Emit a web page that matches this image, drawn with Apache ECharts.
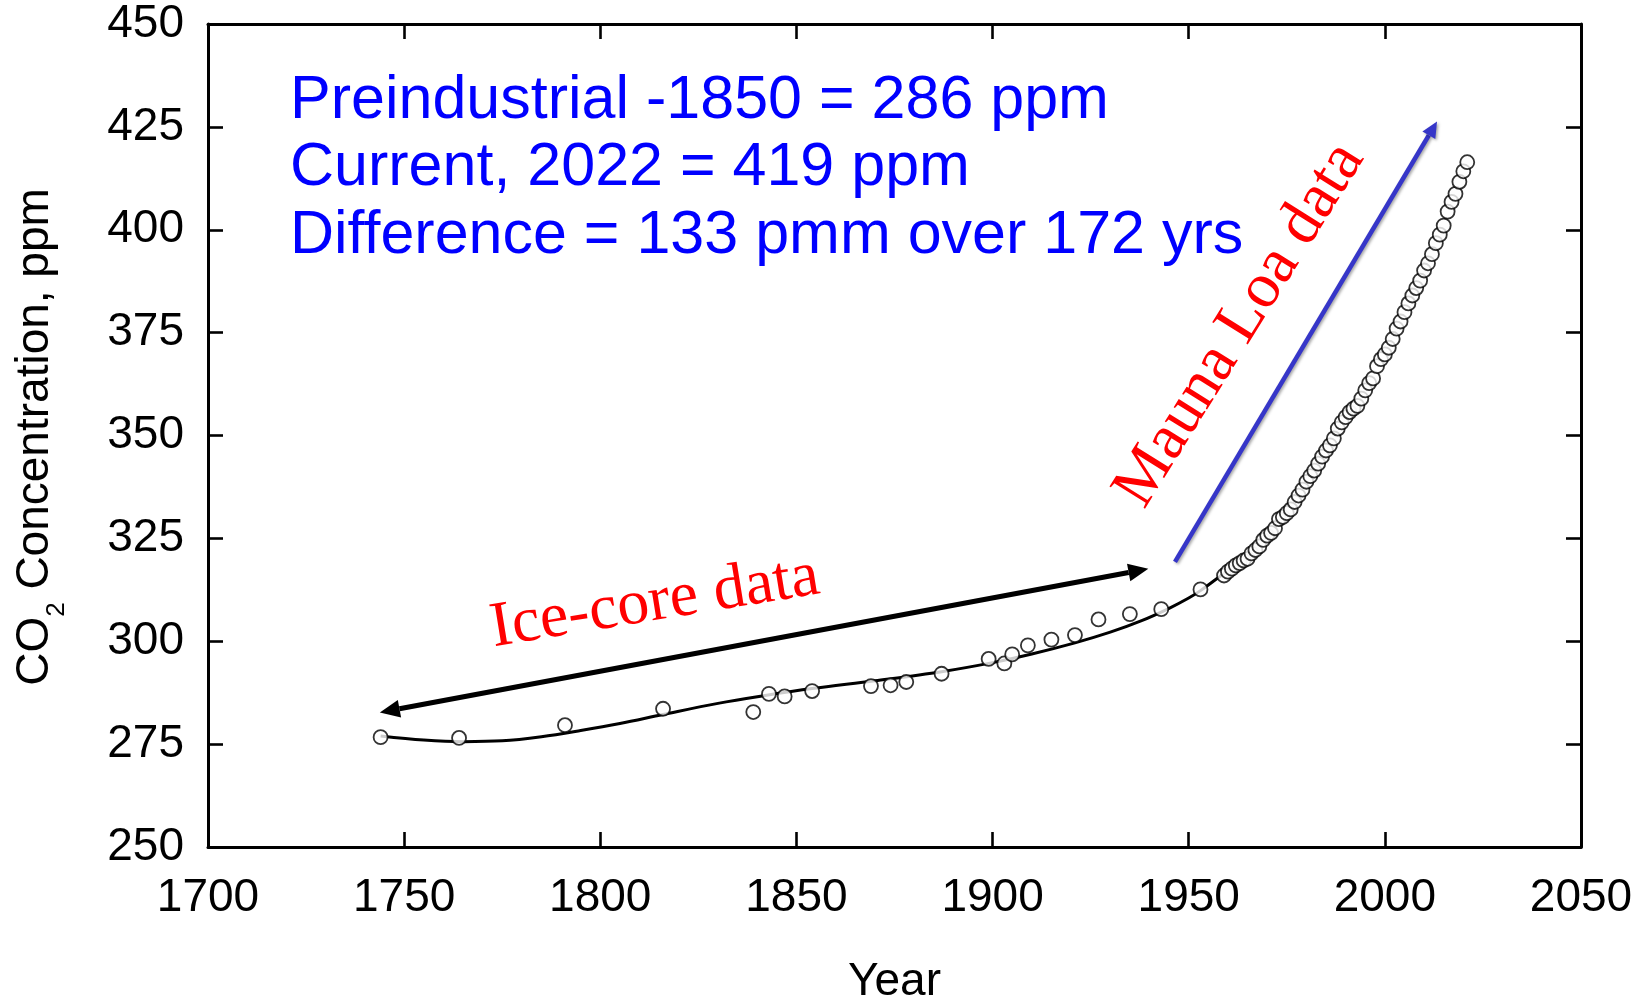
<!DOCTYPE html>
<html>
<head>
<meta charset="utf-8">
<script src="https://cdn.jsdelivr.net/npm/echarts/dist/echarts.min.js"></script>
<style>
html,body{margin:0;padding:0;background:#ffffff;overflow:hidden;width:1646px;height:1000px;}
#main{position:absolute;left:0;top:0;width:1646px;height:1000px;}
</style>
</head>
<body>
<div id="main"></div>
<script>
// ---------- data ----------
const xTickValues = [1700, 1750, 1800, 1850, 1900, 1950, 2000, 2050];
const yTickValues = [250, 275, 300, 325, 350, 375, 400, 425, 450];

// Ice-core measurements (open circles, pre-1958)
const iceYears = [1744, 1764, 1791, 1816, 1839, 1843, 1847, 1854, 1869, 1874, 1878, 1887, 1899, 1903, 1905, 1909, 1915, 1921, 1927, 1935, 1943, 1953];
const iceCO2   = [276.7, 276.5, 279.6, 283.6, 282.8, 287.2, 286.6, 287.9, 289.1, 289.3, 290.1, 292.1, 295.7, 294.6, 296.8, 299.0, 300.4, 301.5, 305.3, 306.6, 307.8, 312.6];

// Mauna Loa annual means (open circles)
const maunaYears = [1959, 1960, 1961, 1962, 1963, 1964, 1965, 1966, 1967, 1968, 1969, 1970, 1971, 1972, 1973, 1974, 1975, 1976, 1977, 1978, 1979, 1980, 1981, 1982, 1983, 1984, 1985, 1986, 1987, 1988, 1989, 1990, 1991, 1992, 1993, 1994, 1995, 1996, 1997, 1998, 1999, 2000, 2001, 2002, 2003, 2004, 2005, 2006, 2007, 2008, 2009, 2010, 2011, 2012, 2013, 2014, 2015, 2016, 2017, 2018, 2019, 2020, 2021];
const maunaCO2   = [315.98, 316.91, 317.64, 318.45, 318.99, 319.62, 320.04, 321.37, 322.18, 323.05, 324.62, 325.68, 326.32, 327.46, 329.68, 330.19, 331.13, 332.03, 333.84, 335.41, 336.84, 338.76, 340.12, 341.48, 343.15, 344.87, 346.35, 347.61, 349.31, 351.69, 353.20, 354.45, 355.70, 356.54, 357.21, 358.96, 360.97, 362.74, 363.88, 366.84, 368.54, 369.71, 371.32, 373.45, 375.98, 377.70, 379.98, 382.09, 384.02, 385.83, 387.64, 390.10, 391.85, 394.06, 396.74, 398.81, 401.01, 404.41, 406.76, 408.72, 411.65, 414.21, 416.41];

// Smooth fitted curve through the ice-core data
const fitYears = [1744, 1755, 1765, 1775, 1785, 1795, 1805, 1816, 1830, 1842, 1854, 1870, 1887, 1900, 1910, 1921, 1930, 1938, 1945, 1950, 1953, 1958, 1962];
const fitCO2   = [277.0, 276.0, 275.6, 275.8, 276.8, 278.3, 280.0, 282.2, 284.9, 286.8, 288.5, 290.4, 292.6, 294.8, 296.9, 299.6, 302.2, 305.0, 308.0, 310.5, 312.3, 315.8, 318.5];

// Annotation texts
const infoLines = ['Preindustrial -1850 = 286 ppm', 'Current, 2022 = 419 ppm', 'Difference = 133 pmm over 172 yrs'];
const iceLabel = 'Ice-core data';
const maunaLabel = 'Mauna Loa data';
const xTitle = 'Year';
const yTitleParts = ['CO', '2', ' Concentration, ppm'];

// Arrow anchors in data units [year, ppm]
const blackArrowEnds = [[1743.8, 282.7], [1939.7, 317.6]];
const blueArrowEnds  = [[1946.5, 319.3], [2013.3, 426.3]];

// ---------- chart ----------
const SANS = '"Liberation Sans", Arial, Helvetica, sans-serif';
const SERIF = '"Liberation Serif", "Times New Roman", Times, serif';

function zip(xs, ys) { return xs.map((x, i) => [x, ys[i]]); }

const axisLineStyle = { color: '#000', width: 3 };
const tickStyle = { color: '#000', width: 2.6 };

function xAxisDef(pos, showLabel) {
  return {
    type: 'value', position: pos, min: xTickValues[0], max: xTickValues[xTickValues.length - 1], interval: 50,
    axisLine: { show: true, onZero: false, lineStyle: axisLineStyle },
    axisTick: { show: true, inside: true, length: 15, lineStyle: tickStyle },
    axisLabel: { show: showLabel, fontSize: 46, color: '#000', fontFamily: SANS, margin: 28, formatter: v => String(v) },
    splitLine: { show: false },
    name: showLabel ? xTitle : '', nameLocation: 'middle', nameGap: 112,
    nameTextStyle: { fontSize: 46, color: '#000', fontFamily: SANS }
  };
}
function yAxisDef(pos, showLabel) {
  return {
    type: 'value', position: pos, min: yTickValues[0], max: yTickValues[yTickValues.length - 1], interval: 25,
    axisLine: { show: true, onZero: false, lineStyle: axisLineStyle },
    axisTick: { show: true, inside: true, length: 15, lineStyle: tickStyle },
    axisLabel: { show: showLabel, fontSize: 46, color: '#000', fontFamily: SANS, margin: 24, formatter: v => String(v) },
    splitLine: { show: false }
  };
}

const markerStyle = { color: '#ffffff', borderColor: '#000000', borderWidth: 1.8 };

const option = {
  backgroundColor: '#ffffff',
  animation: false,
  grid: { left: 208, right: 65, top: 24, bottom: 153, containLabel: false, outerBoundsMode: 'none' },
  xAxis: [xAxisDef('bottom', true), xAxisDef('top', false)],
  yAxis: [yAxisDef('left', true), yAxisDef('right', false)],
  series: [
    {
      name: 'Fit', type: 'line', xAxisIndex: 0, yAxisIndex: 0,
      data: zip(fitYears, fitCO2), smooth: 0.35, showSymbol: false, symbol: 'none',
      lineStyle: { color: '#000', width: 3 }, z: 2
    },
    {
      name: 'Ice core', type: 'scatter', xAxisIndex: 0, yAxisIndex: 0,
      data: zip(iceYears, iceCO2), symbol: 'circle', symbolSize: 14,
      itemStyle: markerStyle, z: 3
    },
    {
      name: 'Mauna Loa', type: 'scatter', xAxisIndex: 0, yAxisIndex: 0,
      data: zip(maunaYears, maunaCO2), symbol: 'circle', symbolSize: 14,
      itemStyle: markerStyle, z: 3
    }
  ]
};

const chart = echarts.init(document.getElementById('main'), null, { renderer: 'canvas', width: 1646, height: 1000 });
chart.setOption(option);

// ---------- annotations ----------
function px(p) { return chart.convertToPixel({ xAxisIndex: 0, yAxisIndex: 0 }, p); }

function headPoly(tip, from, len, half) {
  const dx = tip[0] - from[0], dy = tip[1] - from[1];
  const L = Math.hypot(dx, dy), ux = dx / L, uy = dy / L, nx = -uy, ny = ux;
  const b = [tip[0] - ux * len, tip[1] - uy * len];
  return { base: b, pts: [tip, [b[0] + nx * half, b[1] + ny * half], [b[0] - nx * half, b[1] - ny * half]] };
}

const graphics = [];

// black double-headed arrow
(function () {
  const a = px(blackArrowEnds[0]), b = px(blackArrowEnds[1]);
  const h1 = headPoly(a, b, 20, 9), h2 = headPoly(b, a, 20, 9);
  graphics.push({ type: 'line', shape: { x1: h1.base[0], y1: h1.base[1], x2: h2.base[0], y2: h2.base[1] }, style: { stroke: '#000', lineWidth: 5 }, z: 10 });
  graphics.push({ type: 'polygon', shape: { points: h1.pts }, style: { fill: '#000' }, z: 10 });
  graphics.push({ type: 'polygon', shape: { points: h2.pts }, style: { fill: '#000' }, z: 10 });
})();

// blue arrow
(function () {
  const a = px(blueArrowEnds[0]), b = px(blueArrowEnds[1]);
  const h = headPoly(b, a, 16, 7.5);
  const sh = { shadowBlur: 3, shadowColor: 'rgba(0,0,0,0.35)', shadowOffsetX: 1.5, shadowOffsetY: 1.5 };
  graphics.push({ type: 'line', shape: { x1: a[0], y1: a[1], x2: h.base[0], y2: h.base[1] }, style: Object.assign({ stroke: '#3636C8', lineWidth: 4.5 }, sh), z: 10 });
  graphics.push({ type: 'polygon', shape: { points: h.pts }, style: Object.assign({ fill: '#3636C8' }, sh), z: 10 });
})();

// blue info text
infoLines.forEach((t, i) => {
  graphics.push({
    type: 'text', x: 290, y: 101 + i * 67.5, z: 11,
    style: { text: t, fill: '#0000FF', font: '61px ' + SANS, textAlign: 'left', align: 'left', textVerticalAlign: 'middle', verticalAlign: 'middle' }
  });
});

// red rotated labels
graphics.push({
  type: 'text', x: 655, y: 603, rotation: 9.2 * Math.PI / 180, z: 11,
  style: { text: iceLabel, fill: '#FF0000', font: '64px ' + SERIF, textAlign: 'center', align: 'center', textVerticalAlign: 'middle', verticalAlign: 'middle' }
});
graphics.push({
  type: 'text', x: 1240, y: 325, rotation: 58 * Math.PI / 180, z: 11,
  style: { text: maunaLabel, fill: '#FF0000', font: '64px ' + SERIF, textAlign: 'center', align: 'center', textVerticalAlign: 'middle', verticalAlign: 'middle' }
});

// y-axis title with subscript (rotated group)
(function () {
  const ctx = document.createElement('canvas').getContext('2d');
  function tw(s, size) { ctx.font = size + 'px ' + SANS; return ctx.measureText(s).width; }
  const big = 46, small = 26;
  const w0 = tw(yTitleParts[0], big), w1 = tw(yTitleParts[1], small), w2 = tw(yTitleParts[2], big);
  const W = w0 + w1 + w2;
  const x0 = -W / 2;
  const st = (t, size) => ({ text: t, fill: '#000', font: size + 'px ' + SANS, textAlign: 'left', align: 'left', textVerticalAlign: 'middle', verticalAlign: 'middle' });
  graphics.push({
    type: 'group', x: 35, y: 437, rotation: Math.PI / 2, z: 11,
    children: [
      { type: 'text', x: x0, y: 0, style: st(yTitleParts[0], big) },
      { type: 'text', x: x0 + w0, y: 22, style: st(yTitleParts[1], small) },
      { type: 'text', x: x0 + w0 + w1, y: 0, style: st(yTitleParts[2], big) }
    ]
  });
})();

chart.setOption({ graphic: { elements: graphics } });
</script>
</body>
</html>
